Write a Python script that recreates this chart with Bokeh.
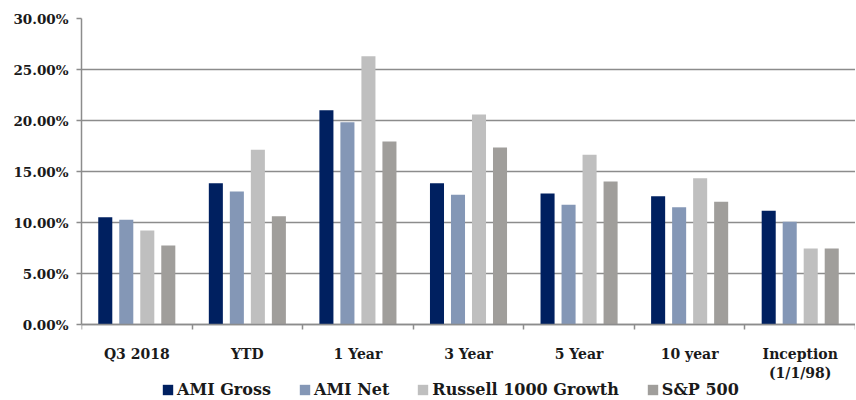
from bokeh.plotting import figure
from bokeh.models import ColumnDataSource, FixedTicker, PrintfTickFormatter, Legend, LegendItem, Range1d
from bokeh.embed import file_html
from bokeh.resources import INLINE

categories = ["Q3 2018", "YTD", "1 Year", "3 Year", "5 Year", "10 year", "Inception\n(1/1/98)"]
series_names = ["AMI Gross", "AMI Net", "Russell 1000 Growth", "S&P 500"]
ami_gross = [10.52, 13.85, 21.01, 13.85, 12.84, 12.58, 11.15]
ami_net = [10.26, 13.04, 19.83, 12.71, 11.73, 11.50, 10.07]
russell_1000_growth = [9.22, 17.13, 26.30, 20.59, 16.63, 14.34, 7.45]
sp_500 = [7.75, 10.62, 17.94, 17.35, 14.02, 12.03, 7.45]
y_ticks = [0, 5, 10, 15, 20, 25, 30]

colors = ["#002060", "#8497B6", "#BFBFBF", "#A09E9B"]
series = [ami_gross, ami_net, russell_1000_growth, sp_500]

FONT = "DejaVu Serif"

# frame spans plot + area for category labels and legend; value axis 0..30 covers top 306px
FRAME_H = 381
Y_MAX = 30
Y_MIN = Y_MAX - Y_MAX * FRAME_H / 306.0

p = figure(frame_width=774, frame_height=FRAME_H, output_backend="svg", toolbar_location=None,
           x_range=Range1d(0, len(categories)), y_range=Range1d(Y_MIN, Y_MAX),
           min_border_left=81, min_border_right=0, min_border_top=18, min_border_bottom=0)
p.outline_line_color = None
p.background_fill_color = "white"

centers = [i + 0.5 for i in range(len(categories))]
step = 0.19
bar_w = 0.127
renderers = []
for k, (vals, col) in enumerate(zip(series, colors)):
    xs = [c + (k - 1.5) * step for c in centers]
    src = ColumnDataSource(dict(x=xs, top=vals))
    r = p.vbar(x="x", top="top", bottom=0, width=bar_w, source=src,
               fill_color=col, line_color=None)
    renderers.append(r)

# y axis
p.yaxis.ticker = FixedTicker(ticks=y_ticks)
p.yaxis.bounds = (0, Y_MAX)
p.yaxis.formatter = PrintfTickFormatter(format="%.2f%%")
p.yaxis.major_label_text_font = FONT
p.yaxis.major_label_text_font_size = "13.5px"
p.yaxis.major_label_text_font_style = "bold"
p.yaxis.major_label_text_color = "#1a1a1a"
p.yaxis.axis_line_color = "#8c8c8c"
p.yaxis.axis_line_width = 1.5
p.yaxis.major_tick_line_color = "#8c8c8c"
p.yaxis.major_tick_line_width = 1.5
p.yaxis.major_tick_in = 0
p.yaxis.major_tick_out = 5
p.yaxis.minor_tick_line_color = None
p.yaxis.major_label_standoff = 8

# x axis, drawn at value 0
p.xaxis.fixed_location = 0
p.xaxis.ticker = FixedTicker(ticks=centers, minor_ticks=list(range(len(categories) + 1)))
p.xaxis.major_label_overrides = {c: lab for c, lab in zip(centers, categories)}
p.xaxis.major_label_text_font = FONT
p.xaxis.major_label_text_font_size = "14px"
p.xaxis.major_label_text_font_style = "bold"
p.xaxis.major_label_text_color = "#1a1a1a"
p.xaxis.axis_line_color = "#8c8c8c"
p.xaxis.axis_line_width = 1.5
p.xaxis.major_tick_line_color = None
p.xaxis.minor_tick_line_color = "#8c8c8c"
p.xaxis.minor_tick_line_width = 1.5
p.xaxis.minor_tick_in = 0
p.xaxis.minor_tick_out = 5
p.xaxis.major_label_standoff = 15

p.xgrid.grid_line_color = None
p.ygrid.ticker = FixedTicker(ticks=y_ticks)
p.ygrid.grid_line_color = "#8c8c8c"
p.ygrid.grid_line_width = 1.5

legend = Legend(items=[LegendItem(label=n, renderers=[r]) for n, r in zip(series_names, renderers)],
                orientation="horizontal", location=(80, 0))
legend.label_text_font = FONT
legend.label_text_font_size = "16px"
legend.label_text_font_style = "bold"
legend.label_text_color = "#1a1a1a"
legend.glyph_width = 13
legend.glyph_height = 13
legend.label_standoff = 3
legend.spacing = 27
legend.padding = 0
legend.margin = 0
legend.border_line_color = None
legend.background_fill_alpha = 0
p.add_layout(legend, "center")

open("out.html", "w").write(file_html(p, INLINE))
